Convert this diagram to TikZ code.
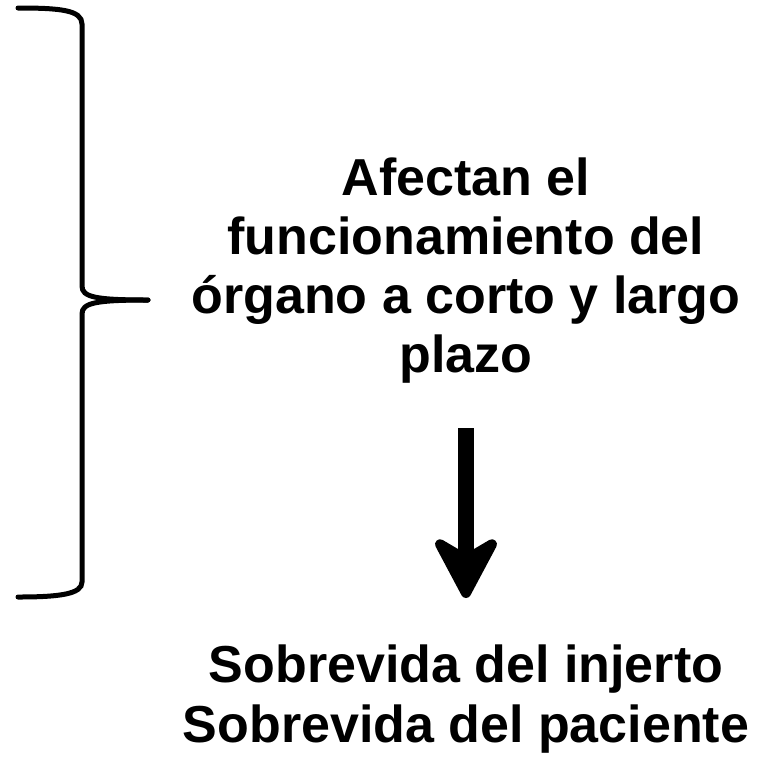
\documentclass[tikz,border=0pt]{standalone}
\usepackage{fontspec}
\setmainfont{Liberation Sans}
\usetikzlibrary{arrows.meta}

\begin{document}
\begin{tikzpicture}[x=1pt, y=-1pt,
    every node/.style={font=\bfseries\fontsize{52}{59}\selectfont, align=center, inner sep=0pt},
    brace/.style={line width=5pt, line cap=round},
    bigarrow/.style={line width=16pt, -{Stealth[round, length=72pt, width=76pt, inset=22pt, line width=10pt]}}]
    \useasboundingbox (0,0) rectangle (762,756);

    \node[anchor=north] (effect) at (466,158) {Afectan el\\funcionamiento del\\órgano a corto y largo\\plazo};
    \node[anchor=north, font=\bfseries\fontsize{52}{60}\selectfont] (outcome) at (466,645) {Sobrevida del injerto\\Sobrevida del paciente};

    % the brace on the left
    \draw[brace] (18,8) .. controls (60,8) and (82,10) .. (82,24) -- (82,286)
        .. controls (82,297) and (95,300) .. (148,300);
    \draw[brace] (148,300) .. controls (95,300) and (82,303) .. (82,314) -- (82,582)
        .. controls (82,594) and (60,597) .. (18,597);

    % arrow between the two texts
    \coordinate (from) at (466,428);
    \coordinate (to) at (466,598);
    \draw[bigarrow] (from) -- (to);
\end{tikzpicture}
\end{document}
